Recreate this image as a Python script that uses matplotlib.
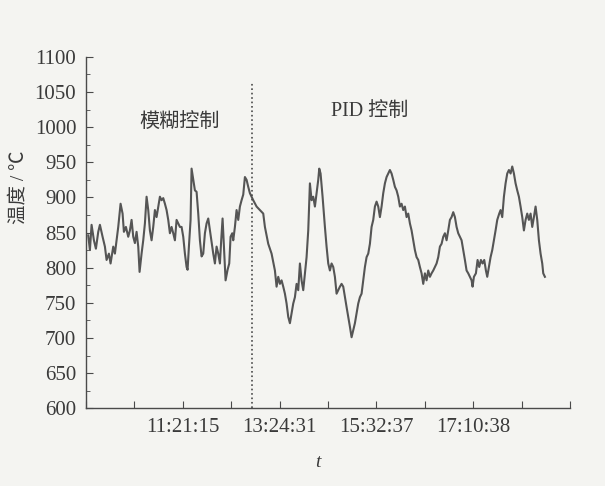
import numpy as np
import matplotlib
matplotlib.use("Agg")
import matplotlib.pyplot as plt
from matplotlib.ticker import MultipleLocator

plt.rcParams['font.family'] = ['Liberation Serif', 'Noto Sans CJK SC', 'DejaVu Sans']

# sample position and temperature in degC
t = [265, 270, 275, 282, 288, 295, 300, 308, 315, 320, 327, 332, 340, 345, 350,
     355, 362, 368, 372, 378, 385, 390, 395, 400, 405, 410, 415, 419, 425, 430,
     435, 440, 445, 450, 455, 460, 465, 470, 475, 480, 485, 490, 495, 500, 505,
     510, 515, 520, 525, 530, 535, 540, 545, 550, 555, 560, 563, 567, 572, 575,
     580, 585, 590, 595, 600, 605, 610, 615, 620, 625, 630, 635, 640, 645, 650,
     655, 660, 664, 668, 672, 677, 683, 688, 692, 697, 700, 705, 710, 715, 720,
     725, 730, 735, 740, 745,
     750, 760, 770, 780, 790, 795, 805, 815, 825, 830, 835, 840, 845, 850, 855,
     860, 865, 870, 875, 880, 885, 890, 895, 900, 905, 910, 915, 920, 925, 930,
     935, 940, 945, 950, 955, 958, 962, 968, 975, 980, 985, 990, 995, 1000, 1005,
     1010, 1015, 1020, 1025, 1030, 1035, 1040, 1045, 1050, 1055, 1060, 1065, 1070,
     1075, 1080, 1085, 1090, 1095, 1100, 1105, 1110, 1115, 1120, 1125, 1130, 1135,
     1140, 1145, 1150, 1155, 1160, 1165, 1170, 1175, 1180, 1185, 1190, 1195, 1200,
     1205, 1210, 1215, 1220, 1225, 1230, 1235, 1240, 1245, 1250, 1255, 1260, 1265,
     1270, 1275, 1280, 1285, 1290, 1295, 1300, 1305, 1310, 1315, 1320, 1325, 1330,
     1335, 1340, 1345, 1350, 1355, 1360, 1365, 1370, 1375, 1380, 1385, 1390, 1395,
     1400, 1405, 1410, 1415, 1418, 1422, 1428, 1433, 1438, 1443, 1448, 1453, 1458,
     1462, 1467, 1472, 1477, 1482, 1487, 1492, 1498, 1502, 1507, 1512, 1517, 1522,
     1527, 1532, 1537, 1542, 1547, 1552, 1557, 1562, 1567, 1572, 1577, 1582, 1587,
     1592, 1597, 1602, 1607, 1612, 1617, 1622, 1627, 1630, 1635]
temp = [846, 825, 861, 839, 827, 851, 861, 844, 830, 811, 820, 806, 830, 820, 839,
        858, 891, 877, 851, 858, 844, 853, 868, 844, 835, 851, 830, 794, 820, 839,
        863, 901, 882, 853, 839, 858, 882, 872, 887, 901, 896, 899, 891, 882, 868,
        849, 858, 849, 839, 868, 863, 858, 858, 844, 820, 801, 797, 830, 868, 941,
        925, 910, 908, 877, 839, 816, 820, 849, 863, 870, 853, 835, 820, 806, 830,
        820, 806, 840, 870, 830, 782, 797, 806, 844, 849, 839, 858, 882, 868, 887,
        896, 904, 929, 925, 915,
        906, 896, 887, 882, 877, 858, 834, 820, 796, 773, 787, 777, 782, 773, 763,
        749, 730, 721, 735, 749, 758, 777, 768, 806, 782, 768, 792, 815, 853, 920,
        896, 901, 887, 906, 925, 941, 934, 901, 858, 830, 806, 796, 806, 801, 787,
        763, 768, 773, 777, 773, 758, 744, 730, 716, 701, 711, 721, 735,
        749, 758, 763, 782, 801, 815, 820, 834, 858, 868, 887, 894, 887,
        872, 887, 906, 920, 929, 934, 939, 934, 925, 915, 910, 901, 887,
        891, 882, 887, 872, 877, 863, 853, 839, 825, 815, 811, 801, 792,
        777, 792, 782, 796, 787, 792, 796, 801, 806, 815, 830, 834, 844,
        849, 839, 853, 868, 872, 879, 872, 858, 849, 844, 839, 825, 811,
        796, 792, 787, 782, 773, 787, 792, 811, 801, 811, 806, 811, 796,
        787, 801, 815, 825, 839, 853, 868, 877, 882, 872, 901, 920, 934,
        939, 934, 944, 934, 920, 910, 901, 887, 872, 853, 868, 877, 868,
        877, 858, 872, 887, 868, 839, 820, 806, 792, 787]

x_start = 258
x_step = 145.2
tick_pos = [x_start + x_step * k for k in range(11)]
tick_labels = ['', '', '11:21:15', '', '13:24:31', '', '15:32:37', '', '17:10:38', '', '']
switch_t = 756

bg = '#f4f4f1'
ink = '#4a4a4a'
txt = '#3a3a3a'

fig = plt.figure(figsize=(6.05, 4.86), dpi=100, facecolor=bg)
ax = fig.add_axes([0.142, 0.160, 0.80, 0.723], facecolor=bg)

ax.plot(t, temp, color='#555555', linewidth=1.5)
ax.plot([switch_t, switch_t], [600, 1063], color=ink, linestyle=':', linewidth=1.2)

ax.set_xlim(tick_pos[0], tick_pos[-1])
ax.set_ylim(600, 1100)
ax.set_xticks(tick_pos)
ax.set_xticklabels(tick_labels)
ax.yaxis.set_major_locator(MultipleLocator(50))
ax.yaxis.set_minor_locator(MultipleLocator(25))

for s in ['top', 'right']:
    ax.spines[s].set_visible(False)
for s in ['left', 'bottom']:
    ax.spines[s].set_color(ink)
    ax.spines[s].set_linewidth(1.0)

ax.tick_params(axis='both', which='major', direction='in', length=5, color=ink,
               labelsize=15, labelcolor=txt, pad=7)
ax.tick_params(axis='y', which='minor', direction='in', length=3, color=ink)

ax.text(540, 1007, '模糊控制', fontsize=14.5, ha='center', va='center',
        family=['Noto Sans CJK SC'], color=txt)
ax.text(1110, 1022, 'PID 控制', fontsize=14.5, ha='center', va='center', color=txt)

ax.set_ylabel('温度 / ℃', fontsize=14, color=txt)
ax.yaxis.set_label_coords(-0.12, 0.63)
ax.set_xlabel('t', fontsize=14, style='italic', color=txt)
ax.xaxis.set_label_coords(0.48, -0.13)

fig.savefig('out.png', dpi=100, facecolor=bg)
